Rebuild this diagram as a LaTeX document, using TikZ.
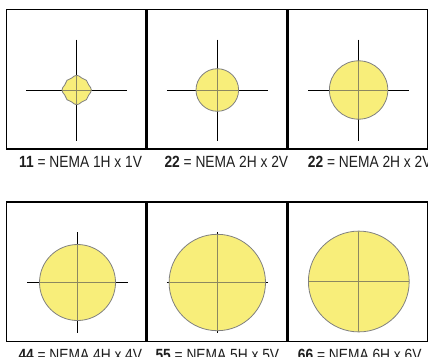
\documentclass[tikz,border=0pt]{standalone}
\usepackage{fontspec}
\setmainfont{Liberation Sans}
\newfontfamily\lblfont[FakeStretch=0.85]{Liberation Sans}
\definecolor{fillY}{RGB}{248,238,122}
\definecolor{edgeG}{RGB}{128,128,128}
\definecolor{innerG}{RGB}{140,136,96}
\definecolor{txt}{RGB}{30,30,30}
\tikzset{
  panel/.style={draw=black, line width=1.6pt, minimum width=139.5pt, minimum height=139.5pt, inner sep=0pt},
  cross/.style={line width=1pt, black},
  spot/.style={fill=fillY, draw=edgeG, line width=0.8pt},
  spotc/.style={spot, circle, inner sep=0pt},
  innercross/.style={innerG, line width=0.9pt},
  lbl/.style={anchor=base west, inner sep=0pt, text=txt, font=\lblfont\fontsize{16.2}{19}\selectfont},
}
\begin{document}
\begin{tikzpicture}[x=1pt,y=-1pt]
\useasboundingbox[fill=white] (0,0) rectangle (428,356);
% panels
\node[panel] (p1) at (76.25,79.25) {};
\node[panel] (p2) at (217.4,79.25) {};
\node[panel] (p3) at (358.2,79.25) {};
\node[panel] (p4) at (76.25,271.7) {};
\node[panel] (p5) at (217.4,271.7) {};
\node[panel] (p6) at (358.2,271.7) {};
% crosshairs (black)
\foreach \cx/\cy in {76.7/90, 217.3/90, 358.6/90, 77.5/282.5, 217.3/282.5, 358.8/281.5}{
  \draw[cross] (\cx-50.5,\cy) -- (\cx+50.5,\cy);
  \draw[cross] (\cx,\cy-50.5) -- (\cx,\cy+50.5);
}
% blob 11
\def\blob{(91.4,90) (88.71,94.98) (86.39,99.69) (81.68,102.01) (76.7,104.7) (71.72,102.01) (67.01,99.69) (64.69,94.98) (62,90) (64.69,85.02) (67.01,80.31) (71.72,77.99) (76.7,75.3) (81.68,77.99) (86.39,80.31) (88.71,85.02)}
\draw[spot] plot[smooth cycle, tension=1] coordinates {\blob};
\begin{scope}
  \clip plot[smooth cycle, tension=1] coordinates {\blob};
  \draw[innercross] (26.2,90) -- (127.2,90);
  \draw[innercross] (76.7,39.5) -- (76.7,140.5);
\end{scope}
% circles
\foreach \nm/\cx/\cy/\r in {c2/217.3/90/21.3, c3/358.6/90/29.2, c4/77.5/282.5/38, c5/217.3/282.5/48.2, c6/358.8/281.5/50.4}{
  \node[spotc, minimum size=2*\r pt] (\nm) at (\cx,\cy) {};
  \begin{scope}
    \clip (\cx,\cy) circle[radius=\r-0.4];
    \draw[innercross] (\cx-50.5,\cy) -- (\cx+50.5,\cy);
    \draw[innercross] (\cx,\cy-50.5) -- (\cx,\cy+50.5);
  \end{scope}
}
% labels
\node[lbl] (t1) at (19,167.3) {\textbf{11} = NEMA 1H x 1V};
\node[lbl] (t2) at (164.3,167.3) {\textbf{22} = NEMA 2H x 2V};
\node[lbl] (t3) at (307.7,167.3) {\textbf{22} = NEMA 2H x 2V};
\node[lbl] (t4) at (18.3,360.3) {\textbf{44} = NEMA 4H x 4V};
\node[lbl] (t5) at (155.3,360.3) {\textbf{55} = NEMA 5H x 5V};
\node[lbl] (t6) at (297.7,360.3) {\textbf{66} = NEMA 6H x 6V};
\end{tikzpicture}
\end{document}
